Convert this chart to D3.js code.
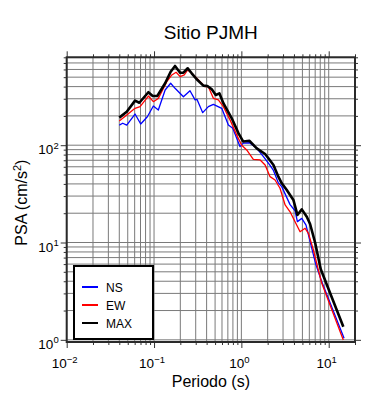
<!DOCTYPE html>
<html>
<head>
<meta charset="utf-8">
<script src="https://cdn.jsdelivr.net/npm/d3@7"></script>
<style>
body { margin: 0; background: #fff; }
text { font-family: "Liberation Sans", Arial, Helvetica, sans-serif; fill: #000; }
</style>
</head>
<body>
<div id="chart"></div>
<script>
// spectra (period in s, PSA in cm/s2)
var nsPeriod = [0.040, 0.0438, 0.0487, 0.0606, 0.0704, 0.0838, 0.0982, 0.112, 0.134, 0.155, 0.174, 0.217, 0.258, 0.295, 0.31, 0.361, 0.419, 0.478, 0.596, 0.710, 0.797, 0.966, 1.05, 1.24, 1.50, 1.79, 2.13, 2.33, 2.65, 2.90, 3.61, 4.12, 4.38, 4.92, 5.5, 7.1, 8.33, 15.0]
var nsPsa    = [161, 168, 161, 209, 165, 196, 253, 230, 369, 433, 384, 315, 363, 292, 296, 216, 249, 263, 239, 161, 149, 96.6, 105, 106, 92.9, 76.2, 62, 55, 41, 37.5, 24.5, 21.2, 16.4, 17.7, 15.1, 6.0, 3.96, 1.04]

var ewPeriod = [0.040, 0.0487, 0.0606, 0.0692, 0.0861, 0.0982, 0.112, 0.140, 0.160, 0.179, 0.199, 0.222, 0.243, 0.270, 0.322, 0.384, 0.419, 0.478, 0.545, 0.622, 0.742, 0.885, 1.01, 1.15, 1.37, 1.64, 1.87, 2.13, 2.43, 2.77, 3.17, 3.61, 4.70, 5.37, 5.86, 6.68, 7.62, 8.33, 14.7]
var ewPsa    = [177, 204, 239, 249, 320, 280, 303, 449, 527, 561, 506, 527, 593, 548, 468, 399, 399, 303, 292, 249, 182, 127, 100, 89.3, 71.6, 70.5, 62.6, 47.5, 43.9, 36.1, 24.3, 20.7, 12.9, 14.0, 12.4, 8.37, 5.21, 3.81, 0.995]

var maxPeriod = [0.040, 0.0487, 0.0606, 0.0679, 0.0861, 0.0966, 0.109, 0.134, 0.155, 0.174, 0.199, 0.217, 0.243, 0.270, 0.308, 0.367, 0.408, 0.458, 0.509, 0.560, 0.622, 0.776, 0.925, 1.05, 1.24, 1.50, 1.87, 2.04, 2.33, 2.65, 2.90, 3.31, 3.94, 4.38, 4.92, 5.61, 6.12, 6.98, 8.11, 9.09, 14.7]
var maxPsa    = [192, 221, 287, 273, 350, 320, 320, 433, 569, 652, 556, 556, 617, 548, 476, 409, 406, 375, 328, 341, 270, 189, 133, 109, 111, 92.9, 81.2, 73.3, 62.6, 47.5, 40.6, 34.6, 27.4, 19.2, 21.9, 18.4, 15.5, 10, 5.3, 4.1, 1.36]

var seriesNames = ["NS", "EW", "MAX"]
var seriesColors = ["#0000ff", "#ff0000", "#000000"]

var width = 390
var height = 400
var margins = { top: 57.3, right: 35, bottom: 58, left: 66.7 }

var svg = d3.select("#chart")
    .append("svg")
    .attr("width", width)
    .attr("height", height)

var xScale = d3.scaleLog()
    .domain([0.01, 20])
    .range([margins.left, width - margins.right])
var yScale = d3.scaleLog()
    .domain([0.95, 800])
    .range([height - margins.bottom, margins.top])

var x0 = xScale.range()[0], x1 = xScale.range()[1]
var y0 = yScale.range()[0], y1 = yScale.range()[1]

// 1..9 per decade
function logValues(lo, hi) {
    var out = []
    for (var e = Math.floor(Math.log10(lo)); e <= Math.ceil(Math.log10(hi)); e++) {
        for (var m = 1; m < 10; m++) {
            var v = m * Math.pow(10, e)
            if (v >= lo * 0.999 && v <= hi * 1.001) out.push(+v.toPrecision(3))
        }
    }
    return out
}
var xAll = logValues(0.01, 20)
var yAll = logValues(0.95, 800)
var xMajor = [0.01, 0.1, 1, 10]
var yMajor = [1, 10, 100]

// grid
var grid = svg.append("g").attr("stroke", "#7a7a7a").attr("stroke-width", 1)
grid.selectAll(".gx").data(xAll).enter().append("line")
    .attr("x1", d => xScale(d)).attr("x2", d => xScale(d))
    .attr("y1", y0).attr("y2", y1)
grid.selectAll(".gy").data(yAll).enter().append("line")
    .attr("y1", d => yScale(d)).attr("y2", d => yScale(d))
    .attr("x1", x0).attr("x2", x1)

// ticks on all four sides, outward
function tickAxis(axisFn, scale, vals, size, transform) {
    var g = svg.append("g")
        .attr("transform", transform)
        .call(axisFn(scale).tickValues(vals).tickSize(size).tickSizeOuter(0).tickFormat(""))
    g.select(".domain").remove()
    g.selectAll("line").attr("stroke", "#333").attr("stroke-width", 1)
}
var xMinor = xAll.filter(d => xMajor.indexOf(d) < 0)
var yMinor = yAll.filter(d => yMajor.indexOf(d) < 0)
tickAxis(d3.axisBottom, xScale, xMajor, 6, "translate(0," + y0 + ")")
tickAxis(d3.axisBottom, xScale, xMinor, 3, "translate(0," + y0 + ")")
tickAxis(d3.axisTop, xScale, xMajor, 6, "translate(0," + y1 + ")")
tickAxis(d3.axisTop, xScale, xMinor, 3, "translate(0," + y1 + ")")
tickAxis(d3.axisLeft, yScale, yMajor, 6, "translate(" + x0 + ",0)")
tickAxis(d3.axisLeft, yScale, yMinor, 3, "translate(" + x0 + ",0)")
tickAxis(d3.axisRight, yScale, yMajor, 6, "translate(" + x1 + ",0)")
tickAxis(d3.axisRight, yScale, yMinor, 3, "translate(" + x1 + ",0)")

// curves
var line = d3.line()
    .x(d => xScale(d[0]))
    .y(d => yScale(d[1]))
var curves = [
    { p: nsPeriod, v: nsPsa, c: seriesColors[0], w: 1.3 },
    { p: ewPeriod, v: ewPsa, c: seriesColors[1], w: 1.3 },
    { p: maxPeriod, v: maxPsa, c: seriesColors[2], w: 2.6 }
]
curves.forEach(s => {
    svg.append("path")
        .datum(s.p.map((t, i) => [t, s.v[i]]))
        .attr("d", line)
        .attr("fill", "none")
        .attr("stroke", s.c)
        .attr("stroke-width", s.w)
        .attr("stroke-linejoin", "round")
})

// frame
svg.append("rect")
    .attr("x", x0).attr("y", y1)
    .attr("width", x1 - x0).attr("height", y0 - y1)
    .attr("fill", "none").attr("stroke", "#2a2a2a").attr("stroke-width", 2)

// tick labels 10^n
function powLabel(sel, exp) {
    sel.append("tspan").text("10")
    sel.append("tspan").attr("font-size", "9.5px").attr("dy", "-5.5").text(exp < 0 ? "\u2212" + (-exp) : exp)
}
xMajor.forEach(d => {
    var t = svg.append("text")
        .attr("x", xScale(d) - 2).attr("y", y0 + 26)
        .attr("text-anchor", "middle").attr("font-size", "13.5px")
    powLabel(t, Math.round(Math.log10(d)))
})
yMajor.forEach(d => {
    var t = svg.append("text")
        .attr("x", x0 - 8).attr("y", yScale(d) + 9)
        .attr("text-anchor", "end").attr("font-size", "13.5px")
    powLabel(t, Math.round(Math.log10(d)))
})

// titles
svg.append("text")
    .attr("x", (x0 + x1) / 2).attr("y", 39)
    .attr("text-anchor", "middle").attr("font-size", "19px")
    .text("Sitio PJMH")
svg.append("text")
    .attr("x", (x0 + x1) / 2).attr("y", 387)
    .attr("text-anchor", "middle").attr("font-size", "16px")
    .text("Periodo (s)")
var yl = svg.append("text")
    .attr("transform", "translate(27," + ((y0 + y1) / 2 + 3) + ") rotate(-90)")
    .attr("text-anchor", "middle").attr("font-size", "16px")
yl.append("tspan").text("PSA (cm/s")
yl.append("tspan").attr("font-size", "11px").attr("dy", "-6").text("2")
yl.append("tspan").attr("dy", "6").text(")")

// legend
var legend = svg.append("g").attr("transform", "translate(74,266)")
legend.append("rect")
    .attr("width", 79).attr("height", 73)
    .attr("fill", "#fff").attr("stroke", "#000").attr("stroke-width", 2)
seriesNames.forEach((n, i) => {
    var yy = 21 + i * 18
    legend.append("line")
        .attr("x1", 8).attr("x2", 24).attr("y1", yy).attr("y2", yy)
        .attr("stroke", seriesColors[i]).attr("stroke-width", 2)
    legend.append("text")
        .attr("x", 32).attr("y", yy + 4.5)
        .attr("font-size", "12px")
        .text(n)
})
</script>
</body>
</html>
